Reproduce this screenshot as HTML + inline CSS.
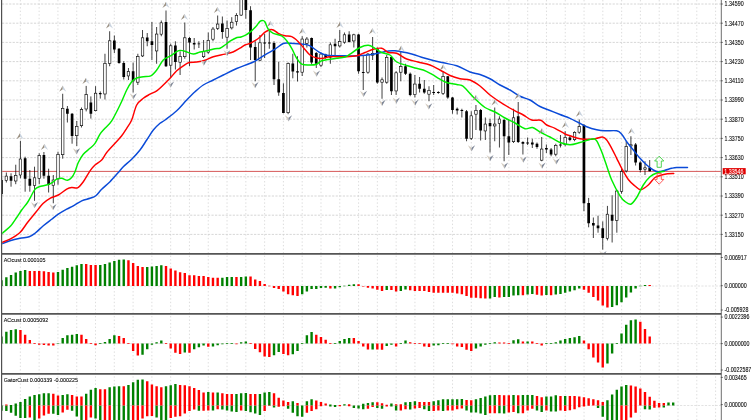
<!DOCTYPE html>
<html><head><meta charset="utf-8"><style>
html,body{margin:0;padding:0;background:#fff;}
body{width:752px;height:420px;overflow:hidden;position:relative;font-family:"Liberation Sans",sans-serif;}
</style></head><body>
<svg width="752" height="420" viewBox="0 0 752 420" style="position:absolute;left:0;top:0;will-change:transform">
<rect width="752" height="420" fill="#fff"/>
<defs>
<clipPath id="pm"><rect x="2.2" y="0" width="718.60" height="253"/></clipPath>
<clipPath id="pa"><rect x="2.2" y="254.3" width="718.60" height="58.6"/></clipPath>
<clipPath id="pc"><rect x="2.2" y="314.3" width="718.60" height="58.6"/></clipPath>
<clipPath id="pg"><rect x="2.2" y="374.3" width="718.60" height="46"/></clipPath>
</defs>
<path d="M2 286.00H721.30 M2 343.60H721.30 M2 405.50H721.30" stroke="#d8d8d8" stroke-width="0.75" stroke-dasharray="2.2 1.35" fill="none"/>
<path d="M20.35 0V420 M39.14 0V420 M57.93 0V420 M76.72 0V420 M95.51 0V420 M114.30 0V420 M133.09 0V420 M151.88 0V420 M170.67 0V420 M189.46 0V420 M208.25 0V420 M227.04 0V420 M245.83 0V420 M264.62 0V420 M283.41 0V420 M302.20 0V420 M320.99 0V420 M339.78 0V420 M358.57 0V420 M377.36 0V420 M396.15 0V420 M414.94 0V420 M433.73 0V420 M452.52 0V420 M471.31 0V420 M490.10 0V420 M508.89 0V420 M527.68 0V420 M546.47 0V420 M565.26 0V420 M584.05 0V420 M602.84 0V420 M621.63 0V420 M640.42 0V420 M659.21 0V420 M678.00 0V420 M696.79 0V420 M715.58 0V420" stroke="#d4d4d4" stroke-width="0.8" stroke-dasharray="1.4 2.15" fill="none"/>
<path d="M2 4.00H721.30 M2 23.20H721.30 M2 42.40H721.30 M2 61.60H721.30 M2 80.80H721.30 M2 100.00H721.30 M2 119.20H721.30 M2 138.40H721.30 M2 157.60H721.30 M2 176.80H721.30 M2 196.00H721.30 M2 215.20H721.30 M2 234.40H721.30" stroke="#c8c8c8" stroke-width="0.75" stroke-dasharray="2.2 1.35" fill="none"/>
<g clip-path="url(#pm)">
<path d="M2 171.4H721.30" stroke="#d45050" stroke-width="0.95" fill="none"/>
<path d="M1.65 178.00V196.00 M6.35 172.50V182.50 M11.04 173.30V186.70 M15.74 164.70V184.20 M20.43 140.80V178.30 M25.13 156.70V191.70 M29.83 170.00V191.70 M34.52 166.70V200.80 M39.22 153.30V184.20 M43.91 152.00V178.70 M48.61 168.70V192.50 M53.31 175.00V203.30 M58.00 151.70V184.70 M62.70 93.75V158.70 M67.39 106.00V122.50 M72.09 113.00V143.70 M76.79 121.00V146.00 M81.48 107.50V127.50 M86.18 85.90V111.40 M90.87 96.40V118.60 M95.57 86.20V111.40 M100.27 91.40V98.60 M104.96 53.75V99.50 M109.66 31.25V66.25 M114.35 35.50V53.00 M119.05 48.00V63.75 M123.75 61.25V79.50 M128.44 68.00V80.00 M133.14 62.50V92.50 M137.83 53.75V85.00 M142.53 30.00V57.00 M147.23 33.00V46.25 M151.92 22.00V60.00 M156.62 27.00V63.75 M161.31 20.50V36.25 M166.01 10.50V67.00 M170.71 43.75V77.50 M175.40 41.25V69.50 M180.10 51.25V75.00 M184.79 22.50V58.75 M189.49 37.00V66.25 M194.19 38.00V49.50 M198.88 41.25V48.00 M203.58 40.00V58.00 M208.27 32.50V53.75 M212.97 27.00V41.25 M217.67 15.50V30.00 M222.36 16.50V38.75 M227.06 20.50V48.75 M231.75 17.20V29.50 M236.45 13.20V25.60 M241.15 -5.00V16.00 M245.84 -5.00V18.70 M250.54 6.20V60.00 M255.23 41.25V81.25 M259.93 35.00V61.25 M264.63 33.75V58.00 M269.32 28.75V48.75 M274.02 41.25V85.00 M278.71 61.70V95.80 M283.41 83.30V113.30 M288.11 62.50V114.20 M292.80 53.75V78.30 M297.50 56.25V81.50 M302.19 36.25V76.00 M306.89 37.00V47.50 M311.59 37.50V64.50 M316.28 52.00V68.00 M320.98 52.50V67.00 M325.67 53.75V58.75 M330.37 42.50V63.75 M335.07 38.75V56.25 M339.76 30.00V47.50 M344.46 32.50V43.75 M349.15 31.25V42.50 M353.85 33.75V47.50 M358.55 33.75V73.75 M363.24 55.00V90.00 M367.94 53.00V73.75 M372.63 37.00V60.00 M377.33 47.50V83.75 M382.03 77.50V98.75 M386.72 55.00V83.75 M391.42 56.25V95.00 M396.11 71.25V95.00 M400.81 51.25V81.25 M405.51 63.75V75.00 M410.20 72.50V96.25 M414.90 75.00V97.50 M419.59 77.00V92.50 M424.29 80.00V93.75 M428.99 86.25V101.25 M433.68 85.00V95.00 M438.38 91.25V93.75 M443.07 71.25V95.00 M447.77 76.00V98.75 M452.47 97.00V113.75 M457.16 107.50V114.50 M461.86 108.75V117.50 M466.55 110.00V141.25 M471.25 111.25V140.00 M475.95 105.00V130.00 M480.64 109.00V140.50 M485.34 117.50V140.00 M490.03 118.75V152.50 M494.73 107.50V141.25 M499.43 116.25V147.50 M504.12 118.75V161.25 M508.82 120.00V155.00 M513.51 108.75V143.00 M518.21 102.00V143.00 M522.91 141.25V154.50 M527.60 137.50V145.00 M532.30 138.75V148.00 M536.99 142.50V148.75 M541.69 137.00V161.25 M546.39 144.50V153.00 M551.08 148.00V156.25 M555.78 143.75V156.25 M560.47 135.00V147.50 M565.17 131.25V146.25 M569.87 135.00V141.25 M574.56 131.25V141.25 M579.26 119.50V133.75 M583.95 124.00V211.25 M588.65 197.90V227.30 M593.35 217.50V238.00 M598.04 215.70V232.70 M602.74 221.40V249.60 M607.43 205.90V240.40 M612.13 195.20V242.50 M616.83 189.80V232.70 M621.52 168.75V193.75 M626.22 141.25V172.50 M630.91 136.25V155.00 M635.61 143.00V165.50 M640.31 161.25V172.50 M645.00 161.25V175.00 M649.70 160.00V171.25" stroke="#000" stroke-width="0.75" fill="none"/>
<path d="M0.30 180.00h2.70v14.00h-2.70z M9.69 176.30h2.70v4.50h-2.70z M23.78 158.30h2.70v20.40h-2.70z M28.48 178.70h2.70v7.10h-2.70z M42.56 155.00h2.70v20.80h-2.70z M47.26 175.80h2.70v9.20h-2.70z M66.04 108.70h2.70v5.00h-2.70z M70.74 113.70h2.70v22.30h-2.70z M89.52 102.40h2.70v11.40h-2.70z M98.92 92.90h2.70v1.40h-2.70z M113.00 40.50h2.70v9.00h-2.70z M117.70 48.75h2.70v14.25h-2.70z M122.40 63.00h2.70v14.00h-2.70z M131.79 71.25h2.70v10.00h-2.70z M145.88 37.50h2.70v3.75h-2.70z M150.57 41.25h2.70v3.75h-2.70z M164.66 22.00h2.70v44.25h-2.70z M174.05 45.50h2.70v16.50h-2.70z M188.14 38.00h2.70v4.50h-2.70z M192.84 43.00h2.70v1.50h-2.70z M197.53 43.50h2.70v0.80h-2.70z M221.01 23.40h2.70v8.60h-2.70z M244.49 -3.00h2.70v12.90h-2.70z M249.19 10.20h2.70v37.30h-2.70z M253.88 47.00h2.70v13.00h-2.70z M263.28 42.60h2.70v0.80h-2.70z M267.97 42.60h2.70v0.80h-2.70z M272.67 43.00h2.70v36.20h-2.70z M277.36 79.20h2.70v13.30h-2.70z M282.06 93.00h2.70v20.00h-2.70z M291.45 63.50h2.70v8.00h-2.70z M296.15 71.30h2.70v1.20h-2.70z M310.24 38.00h2.70v24.50h-2.70z M314.93 53.00h2.70v10.75h-2.70z M324.32 54.50h2.70v3.50h-2.70z M333.72 43.75h2.70v2.50h-2.70z M347.80 34.50h2.70v7.50h-2.70z M357.20 34.50h2.70v36.75h-2.70z M361.89 72.10h2.70v0.80h-2.70z M375.98 48.75h2.70v33.75h-2.70z M390.07 57.00h2.70v34.25h-2.70z M404.16 66.25h2.70v7.50h-2.70z M408.85 73.75h2.70v21.25h-2.70z M418.24 83.75h2.70v5.00h-2.70z M422.94 88.75h2.70v3.75h-2.70z M432.33 92.10h2.70v0.80h-2.70z M437.03 92.10h2.70v0.80h-2.70z M446.42 76.25h2.70v21.25h-2.70z M451.12 97.50h2.70v12.50h-2.70z M455.81 108.75h2.70v1.75h-2.70z M460.51 110.10h2.70v0.80h-2.70z M465.20 111.25h2.70v27.50h-2.70z M479.29 110.00h2.70v20.50h-2.70z M488.68 123.00h2.70v3.25h-2.70z M502.77 120.00h2.70v16.25h-2.70z M507.47 136.25h2.70v6.25h-2.70z M516.86 116.25h2.70v25.75h-2.70z M521.56 142.00h2.70v1.75h-2.70z M526.25 142.60h2.70v0.80h-2.70z M530.95 142.50h2.70v2.00h-2.70z M535.64 143.75h2.70v3.25h-2.70z M545.04 148.00h2.70v1.50h-2.70z M549.73 149.50h2.70v5.00h-2.70z M559.12 144.60h2.70v0.80h-2.70z M568.52 137.50h2.70v2.50h-2.70z M582.60 125.00h2.70v78.20h-2.70z M587.30 202.90h2.70v20.30h-2.70z M592.00 222.90h2.70v2.60h-2.70z M596.69 225.50h2.70v2.70h-2.70z M601.39 228.20h2.70v9.80h-2.70z M610.78 214.80h2.70v5.90h-2.70z M634.26 144.50h2.70v18.00h-2.70z M638.96 162.50h2.70v7.50h-2.70z M648.35 167.50h2.70v3.75h-2.70z" fill="#000"/>
<rect x="5.11" y="176.11" width="2.48" height="4.38" fill="#fff" stroke="#000" stroke-width="0.62"/>
<rect x="14.50" y="175.31" width="2.48" height="5.68" fill="#fff" stroke="#000" stroke-width="0.62"/>
<rect x="19.19" y="159.01" width="2.48" height="15.98" fill="#fff" stroke="#000" stroke-width="0.62"/>
<rect x="33.28" y="177.81" width="2.48" height="7.68" fill="#fff" stroke="#000" stroke-width="0.62"/>
<rect x="37.98" y="155.61" width="2.48" height="22.78" fill="#fff" stroke="#000" stroke-width="0.62"/>
<rect x="52.07" y="180.01" width="2.48" height="5.48" fill="#fff" stroke="#000" stroke-width="0.62"/>
<rect x="56.76" y="154.51" width="2.48" height="24.38" fill="#fff" stroke="#000" stroke-width="0.62"/>
<rect x="61.46" y="108.31" width="2.48" height="46.38" fill="#fff" stroke="#000" stroke-width="0.62"/>
<rect x="75.55" y="126.31" width="2.48" height="9.38" fill="#fff" stroke="#000" stroke-width="0.62"/>
<rect x="80.24" y="109.61" width="2.48" height="16.08" fill="#fff" stroke="#000" stroke-width="0.62"/>
<rect x="84.94" y="94.61" width="2.48" height="14.38" fill="#fff" stroke="#000" stroke-width="0.62"/>
<rect x="94.33" y="93.21" width="2.48" height="17.48" fill="#fff" stroke="#000" stroke-width="0.62"/>
<rect x="103.72" y="63.31" width="2.48" height="30.68" fill="#fff" stroke="#000" stroke-width="0.62"/>
<rect x="108.42" y="40.81" width="2.48" height="22.63" fill="#fff" stroke="#000" stroke-width="0.62"/>
<rect x="127.20" y="71.56" width="2.48" height="4.38" fill="#fff" stroke="#000" stroke-width="0.62"/>
<rect x="136.59" y="56.56" width="2.48" height="25.63" fill="#fff" stroke="#000" stroke-width="0.62"/>
<rect x="141.29" y="37.81" width="2.48" height="18.13" fill="#fff" stroke="#000" stroke-width="0.62"/>
<rect x="155.38" y="34.06" width="2.48" height="16.88" fill="#fff" stroke="#000" stroke-width="0.62"/>
<rect x="160.07" y="22.81" width="2.48" height="11.38" fill="#fff" stroke="#000" stroke-width="0.62"/>
<rect x="169.47" y="45.81" width="2.48" height="19.38" fill="#fff" stroke="#000" stroke-width="0.62"/>
<rect x="178.86" y="56.56" width="2.48" height="5.63" fill="#fff" stroke="#000" stroke-width="0.62"/>
<rect x="183.55" y="37.81" width="2.48" height="18.88" fill="#fff" stroke="#000" stroke-width="0.62"/>
<rect x="202.34" y="51.56" width="2.48" height="5.13" fill="#fff" stroke="#000" stroke-width="0.62"/>
<rect x="207.03" y="40.31" width="2.48" height="11.88" fill="#fff" stroke="#000" stroke-width="0.62"/>
<rect x="211.73" y="29.06" width="2.48" height="10.13" fill="#fff" stroke="#000" stroke-width="0.62"/>
<rect x="216.43" y="24.06" width="2.48" height="4.38" fill="#fff" stroke="#000" stroke-width="0.62"/>
<rect x="225.82" y="28.51" width="2.48" height="8.68" fill="#fff" stroke="#000" stroke-width="0.62"/>
<rect x="230.51" y="22.21" width="2.48" height="5.68" fill="#fff" stroke="#000" stroke-width="0.62"/>
<rect x="235.21" y="15.31" width="2.48" height="6.28" fill="#fff" stroke="#000" stroke-width="0.62"/>
<rect x="239.91" y="-2.69" width="2.48" height="17.78" fill="#fff" stroke="#000" stroke-width="0.62"/>
<rect x="258.69" y="42.81" width="2.48" height="17.38" fill="#fff" stroke="#000" stroke-width="0.62"/>
<rect x="286.87" y="63.61" width="2.48" height="49.08" fill="#fff" stroke="#000" stroke-width="0.62"/>
<rect x="300.95" y="39.06" width="2.48" height="33.13" fill="#fff" stroke="#000" stroke-width="0.62"/>
<rect x="305.65" y="39.06" width="2.48" height="4.38" fill="#fff" stroke="#000" stroke-width="0.62"/>
<rect x="319.74" y="54.06" width="2.48" height="11.13" fill="#fff" stroke="#000" stroke-width="0.62"/>
<rect x="329.13" y="44.81" width="2.48" height="12.38" fill="#fff" stroke="#000" stroke-width="0.62"/>
<rect x="338.52" y="41.56" width="2.48" height="4.38" fill="#fff" stroke="#000" stroke-width="0.62"/>
<rect x="343.22" y="34.81" width="2.48" height="7.38" fill="#fff" stroke="#000" stroke-width="0.62"/>
<rect x="352.61" y="34.81" width="2.48" height="6.13" fill="#fff" stroke="#000" stroke-width="0.62"/>
<rect x="366.70" y="54.06" width="2.48" height="18.13" fill="#fff" stroke="#000" stroke-width="0.62"/>
<rect x="371.39" y="53.31" width="2.48" height="1.88" fill="#fff" stroke="#000" stroke-width="0.62"/>
<rect x="380.79" y="79.81" width="2.48" height="2.38" fill="#fff" stroke="#000" stroke-width="0.62"/>
<rect x="385.48" y="57.31" width="2.48" height="24.88" fill="#fff" stroke="#000" stroke-width="0.62"/>
<rect x="394.87" y="72.81" width="2.48" height="18.13" fill="#fff" stroke="#000" stroke-width="0.62"/>
<rect x="399.57" y="66.56" width="2.48" height="5.63" fill="#fff" stroke="#000" stroke-width="0.62"/>
<rect x="413.66" y="84.06" width="2.48" height="10.63" fill="#fff" stroke="#000" stroke-width="0.62"/>
<rect x="427.75" y="90.31" width="2.48" height="3.88" fill="#fff" stroke="#000" stroke-width="0.62"/>
<rect x="441.83" y="76.56" width="2.48" height="16.88" fill="#fff" stroke="#000" stroke-width="0.62"/>
<rect x="470.01" y="115.81" width="2.48" height="22.63" fill="#fff" stroke="#000" stroke-width="0.62"/>
<rect x="474.71" y="110.31" width="2.48" height="3.88" fill="#fff" stroke="#000" stroke-width="0.62"/>
<rect x="484.10" y="124.06" width="2.48" height="6.88" fill="#fff" stroke="#000" stroke-width="0.62"/>
<rect x="493.49" y="124.06" width="2.48" height="1.88" fill="#fff" stroke="#000" stroke-width="0.62"/>
<rect x="498.19" y="119.06" width="2.48" height="4.38" fill="#fff" stroke="#000" stroke-width="0.62"/>
<rect x="512.27" y="117.81" width="2.48" height="23.88" fill="#fff" stroke="#000" stroke-width="0.62"/>
<rect x="540.45" y="149.06" width="2.48" height="11.13" fill="#fff" stroke="#000" stroke-width="0.62"/>
<rect x="554.54" y="145.31" width="2.48" height="8.88" fill="#fff" stroke="#000" stroke-width="0.62"/>
<rect x="563.93" y="137.31" width="2.48" height="7.38" fill="#fff" stroke="#000" stroke-width="0.62"/>
<rect x="573.32" y="132.31" width="2.48" height="7.38" fill="#fff" stroke="#000" stroke-width="0.62"/>
<rect x="578.02" y="126.56" width="2.48" height="5.63" fill="#fff" stroke="#000" stroke-width="0.62"/>
<rect x="606.19" y="214.21" width="2.48" height="24.08" fill="#fff" stroke="#000" stroke-width="0.62"/>
<rect x="615.59" y="191.01" width="2.48" height="29.38" fill="#fff" stroke="#000" stroke-width="0.62"/>
<rect x="620.28" y="171.56" width="2.48" height="19.73" fill="#fff" stroke="#000" stroke-width="0.62"/>
<rect x="624.98" y="146.56" width="2.48" height="24.38" fill="#fff" stroke="#000" stroke-width="0.62"/>
<rect x="629.67" y="144.81" width="2.48" height="1.13" fill="#fff" stroke="#000" stroke-width="0.62"/>
<rect x="643.76" y="167.81" width="2.48" height="1.38" fill="#fff" stroke="#000" stroke-width="0.62"/>
<path d="M1.50 244.00 C2.92 243.47 6.92 241.75 10.00 240.80 C13.08 239.85 16.80 238.98 20.00 238.30 C23.20 237.62 26.70 237.53 29.20 236.70 C31.70 235.87 32.65 235.12 35.00 233.30 C37.35 231.48 40.52 228.15 43.30 225.80 C46.08 223.45 49.20 221.13 51.70 219.20 C54.20 217.27 55.80 215.87 58.30 214.20 C60.80 212.53 64.20 210.60 66.70 209.20 C69.20 207.80 70.80 207.20 73.30 205.80 C75.80 204.40 78.92 202.05 81.70 200.80 C84.48 199.55 87.65 199.13 90.00 198.30 C92.35 197.47 93.85 197.32 95.80 195.80 C97.75 194.28 99.33 191.55 101.70 189.20 C104.07 186.85 107.23 184.48 110.00 181.70 C112.77 178.92 116.08 175.00 118.30 172.50 C120.52 170.00 121.07 168.92 123.30 166.70 C125.53 164.48 128.92 161.98 131.70 159.20 C134.48 156.42 137.50 153.20 140.00 150.00 C142.50 146.80 144.48 143.33 146.70 140.00 C148.92 136.67 151.08 132.78 153.30 130.00 C155.52 127.22 158.05 124.97 160.00 123.30 C161.95 121.63 162.22 122.08 165.00 120.00 C167.78 117.92 173.08 114.13 176.70 110.80 C180.32 107.47 183.65 103.18 186.70 100.00 C189.75 96.82 192.23 94.20 195.00 91.70 C197.77 89.20 200.25 86.95 203.30 85.00 C206.35 83.05 209.97 81.67 213.30 80.00 C216.63 78.33 219.40 76.92 223.30 75.00 C227.20 73.08 231.70 70.67 236.70 68.50 C241.70 66.33 248.58 64.28 253.30 62.00 C258.02 59.72 261.38 56.93 265.00 54.80 C268.62 52.67 271.95 51.08 275.00 49.20 C278.05 47.32 280.80 44.48 283.30 43.50 C285.80 42.52 286.67 43.18 290.00 43.30 C293.33 43.42 299.97 43.78 303.30 44.20 C306.63 44.62 307.50 44.55 310.00 45.80 C312.50 47.05 315.52 50.12 318.30 51.70 C321.08 53.28 322.25 54.62 326.70 55.30 C331.15 55.98 340.00 55.72 345.00 55.80 C350.00 55.88 351.98 56.07 356.70 55.80 C361.42 55.53 368.30 54.95 373.30 54.20 C378.30 53.45 383.08 51.87 386.70 51.30 C390.32 50.73 390.83 50.35 395.00 50.80 C399.17 51.25 406.98 52.83 411.70 54.00 C416.42 55.17 419.70 56.72 423.30 57.80 C426.90 58.88 429.97 59.67 433.30 60.50 C436.63 61.33 439.40 61.92 443.30 62.80 C447.20 63.68 452.25 64.27 456.70 65.80 C461.15 67.33 466.12 70.55 470.00 72.00 C473.88 73.45 476.67 73.38 480.00 74.50 C483.33 75.62 486.67 77.00 490.00 78.75 C493.33 80.50 496.67 83.12 500.00 85.00 C503.33 86.88 506.67 88.12 510.00 90.00 C513.33 91.88 516.67 94.58 520.00 96.25 C523.33 97.92 526.67 98.29 530.00 100.00 C533.33 101.71 536.67 104.75 540.00 106.50 C543.33 108.25 546.67 109.17 550.00 110.50 C553.33 111.83 556.67 113.20 560.00 114.50 C563.33 115.80 566.95 116.97 570.00 118.30 C573.05 119.63 575.52 121.10 578.30 122.50 C581.08 123.90 583.63 125.50 586.70 126.70 C589.77 127.90 593.65 129.02 596.70 129.70 C599.75 130.38 601.67 130.62 605.00 130.80 C608.33 130.98 613.92 130.23 616.70 130.80 C619.48 131.37 620.03 132.38 621.70 134.20 C623.37 136.02 624.77 139.07 626.70 141.70 C628.63 144.33 631.08 147.23 633.30 150.00 C635.52 152.77 637.77 155.80 640.00 158.30 C642.23 160.80 644.48 163.05 646.70 165.00 C648.92 166.95 651.37 168.88 653.30 170.00 C655.23 171.12 656.35 171.65 658.30 171.70 C660.25 171.75 662.77 170.87 665.00 170.30 C667.23 169.73 669.75 168.77 671.70 168.30 C673.65 167.83 674.07 167.63 676.70 167.50 C679.33 167.37 685.70 167.50 687.50 167.50" stroke="#0a4ad8" stroke-width="1.45" fill="none" stroke-linejoin="round" stroke-linecap="round"/>
<path d="M1.50 242.50 C2.92 241.95 6.92 240.87 10.00 239.20 C13.08 237.53 17.08 235.28 20.00 232.50 C22.92 229.72 25.00 225.70 27.50 222.50 C30.00 219.30 32.37 216.50 35.00 213.30 C37.63 210.10 40.80 205.80 43.30 203.30 C45.80 200.80 47.50 199.68 50.00 198.30 C52.50 196.92 55.52 196.52 58.30 195.00 C61.08 193.48 64.47 190.45 66.70 189.20 C68.93 187.95 69.90 187.73 71.70 187.50 C73.50 187.27 75.57 188.77 77.50 187.80 C79.43 186.83 81.22 184.53 83.30 181.70 C85.38 178.87 88.05 173.58 90.00 170.80 C91.95 168.02 93.05 166.80 95.00 165.00 C96.95 163.20 99.75 162.08 101.70 160.00 C103.65 157.92 104.48 155.28 106.70 152.50 C108.92 149.72 112.50 146.08 115.00 143.30 C117.50 140.52 119.75 138.30 121.70 135.80 C123.65 133.30 125.03 130.93 126.70 128.30 C128.37 125.67 130.03 123.88 131.70 120.00 C133.37 116.12 134.77 108.62 136.70 105.00 C138.63 101.38 141.08 100.10 143.30 98.30 C145.52 96.50 147.77 95.45 150.00 94.20 C152.23 92.95 154.48 92.33 156.70 90.80 C158.92 89.27 161.08 87.08 163.30 85.00 C165.52 82.92 167.77 80.67 170.00 78.30 C172.23 75.93 174.48 72.88 176.70 70.80 C178.92 68.72 181.22 67.18 183.30 65.80 C185.38 64.42 186.97 63.13 189.20 62.50 C191.43 61.87 194.07 62.37 196.70 62.00 C199.33 61.63 202.23 61.18 205.00 60.30 C207.77 59.42 209.97 57.73 213.30 56.70 C216.63 55.67 221.72 54.88 225.00 54.10 C228.28 53.32 230.50 52.98 233.00 52.00 C235.50 51.02 238.00 49.37 240.00 48.20 C242.00 47.03 243.33 45.80 245.00 45.00 C246.67 44.20 248.33 44.12 250.00 43.40 C251.67 42.68 253.33 41.77 255.00 40.70 C256.67 39.63 258.33 38.43 260.00 37.00 C261.67 35.57 263.33 33.32 265.00 32.10 C266.67 30.88 268.62 30.05 270.00 29.70 C271.38 29.35 271.92 29.40 273.30 30.00 C274.68 30.60 276.35 32.33 278.30 33.30 C280.25 34.27 282.77 35.23 285.00 35.80 C287.23 36.37 289.48 35.72 291.70 36.70 C293.92 37.68 296.37 39.90 298.30 41.70 C300.23 43.50 301.35 45.28 303.30 47.50 C305.25 49.72 307.77 53.25 310.00 55.00 C312.23 56.75 314.48 57.45 316.70 58.00 C318.92 58.55 321.08 58.52 323.30 58.30 C325.52 58.08 326.38 56.97 330.00 56.70 C333.62 56.43 340.55 56.85 345.00 56.70 C349.45 56.55 353.37 56.50 356.70 55.80 C360.03 55.10 362.23 53.60 365.00 52.50 C367.77 51.40 370.52 49.90 373.30 49.20 C376.08 48.50 379.20 47.75 381.70 48.30 C384.20 48.85 385.80 51.67 388.30 52.50 C390.80 53.33 393.63 52.22 396.70 53.30 C399.77 54.38 403.15 57.55 406.70 59.00 C410.25 60.45 414.12 61.00 418.00 62.00 C421.88 63.00 426.33 63.67 430.00 65.00 C433.67 66.33 436.67 68.25 440.00 70.00 C443.33 71.75 446.67 74.04 450.00 75.50 C453.33 76.96 456.67 78.00 460.00 78.75 C463.33 79.50 466.67 78.79 470.00 80.00 C473.33 81.21 476.67 83.50 480.00 86.00 C483.33 88.50 486.12 91.97 490.00 95.00 C493.88 98.03 499.13 101.57 503.30 104.20 C507.47 106.83 511.67 109.00 515.00 110.80 C518.33 112.60 520.52 113.47 523.30 115.00 C526.08 116.53 528.78 119.12 531.70 120.00 C534.62 120.88 538.30 119.47 540.80 120.30 C543.30 121.13 544.33 123.67 546.70 125.00 C549.07 126.33 551.95 126.80 555.00 128.30 C558.05 129.80 562.50 132.75 565.00 134.00 C567.50 135.25 567.50 135.02 570.00 135.80 C572.50 136.58 576.38 138.13 580.00 138.70 C583.62 139.27 588.92 139.27 591.70 139.20 C594.48 139.13 594.90 138.67 596.70 138.30 C598.50 137.93 600.83 136.72 602.50 137.00 C604.17 137.28 605.17 138.12 606.70 140.00 C608.23 141.88 610.03 145.25 611.70 148.30 C613.37 151.35 615.03 154.97 616.70 158.30 C618.37 161.63 619.77 164.77 621.70 168.30 C623.63 171.83 626.08 176.55 628.30 179.50 C630.52 182.45 632.92 184.30 635.00 186.00 C637.08 187.70 638.58 189.87 640.80 189.70 C643.02 189.53 645.93 187.03 648.30 185.00 C650.67 182.97 652.77 179.17 655.00 177.50 C657.23 175.83 659.62 175.63 661.70 175.00 C663.78 174.37 665.49 173.95 667.50 173.70 C669.51 173.45 672.71 173.53 673.75 173.50" stroke="#ff0000" stroke-width="1.45" fill="none" stroke-linejoin="round" stroke-linecap="round"/>
<path d="M1.50 234.00 C2.25 233.35 4.45 231.47 6.00 230.10 C7.55 228.73 9.02 227.90 10.80 225.80 C12.58 223.70 14.88 220.13 16.70 217.50 C18.52 214.87 19.90 212.50 21.70 210.00 C23.50 207.50 25.83 205.00 27.50 202.50 C29.17 200.00 30.45 197.22 31.70 195.00 C32.95 192.78 33.75 190.58 35.00 189.20 C36.25 187.82 36.98 187.48 39.20 186.70 C41.42 185.92 45.88 185.37 48.30 184.50 C50.72 183.63 52.35 182.38 53.75 181.50 C55.15 180.62 55.38 179.73 56.70 179.20 C58.03 178.67 59.90 178.12 61.70 178.30 C63.50 178.48 65.83 180.43 67.50 180.30 C69.17 180.17 70.45 178.93 71.70 177.50 C72.95 176.07 73.90 174.20 75.00 171.70 C76.10 169.20 76.92 165.42 78.30 162.50 C79.68 159.58 81.35 156.57 83.30 154.20 C85.25 151.83 88.05 150.12 90.00 148.30 C91.95 146.48 93.33 145.65 95.00 143.30 C96.67 140.95 98.33 136.70 100.00 134.20 C101.67 131.70 103.05 130.53 105.00 128.30 C106.95 126.07 109.20 124.68 111.70 120.80 C114.20 116.92 117.50 110.13 120.00 105.00 C122.50 99.87 124.75 93.88 126.70 90.00 C128.65 86.12 130.03 83.70 131.70 81.70 C133.37 79.70 134.77 78.83 136.70 78.00 C138.63 77.17 140.95 77.07 143.30 76.70 C145.65 76.33 148.57 76.92 150.80 75.80 C153.03 74.68 154.62 72.63 156.70 70.00 C158.78 67.37 161.08 62.30 163.30 60.00 C165.52 57.70 167.77 57.58 170.00 56.20 C172.23 54.82 175.03 52.67 176.70 51.70 C178.37 50.73 178.62 50.48 180.00 50.40 C181.38 50.32 182.78 50.60 185.00 51.20 C187.22 51.80 190.80 53.87 193.30 54.00 C195.80 54.13 197.50 52.58 200.00 52.00 C202.50 51.42 205.80 51.05 208.30 50.50 C210.80 49.95 213.05 49.08 215.00 48.70 C216.95 48.32 218.33 48.82 220.00 48.20 C221.67 47.58 223.33 46.17 225.00 45.00 C226.67 43.83 228.00 42.45 230.00 41.20 C232.00 39.95 235.17 38.20 237.00 37.50 C238.83 36.80 239.50 37.45 241.00 37.00 C242.50 36.55 244.50 35.62 246.00 34.80 C247.50 33.98 248.83 32.98 250.00 32.10 C251.17 31.22 251.83 30.65 253.00 29.50 C254.17 28.35 255.83 26.55 257.00 25.20 C258.17 23.85 259.00 22.17 260.00 21.40 C261.00 20.63 262.17 20.50 263.00 20.60 C263.83 20.70 264.12 20.57 265.00 22.00 C265.88 23.43 266.92 27.32 268.30 29.20 C269.68 31.08 271.07 32.20 273.30 33.30 C275.53 34.40 279.47 34.55 281.70 35.80 C283.93 37.05 285.03 38.72 286.70 40.80 C288.37 42.88 290.03 45.38 291.70 48.30 C293.37 51.22 295.03 55.65 296.70 58.30 C298.37 60.95 299.48 63.08 301.70 64.20 C303.92 65.32 307.50 65.00 310.00 65.00 C312.50 65.00 314.75 64.90 316.70 64.20 C318.65 63.50 319.48 61.63 321.70 60.80 C323.92 59.97 327.50 59.62 330.00 59.20 C332.50 58.78 334.20 58.67 336.70 58.30 C339.20 57.93 342.78 57.68 345.00 57.00 C347.22 56.32 347.50 55.78 350.00 54.20 C352.50 52.62 356.95 48.98 360.00 47.50 C363.05 46.02 365.80 45.17 368.30 45.30 C370.80 45.43 372.77 47.10 375.00 48.30 C377.23 49.50 379.20 51.38 381.70 52.50 C384.20 53.62 387.50 53.42 390.00 55.00 C392.50 56.58 393.92 60.25 396.70 62.00 C399.48 63.75 403.65 64.50 406.70 65.50 C409.75 66.50 412.23 67.25 415.00 68.00 C417.77 68.75 420.52 68.97 423.30 70.00 C426.08 71.03 428.92 72.67 431.70 74.20 C434.48 75.73 437.50 77.82 440.00 79.20 C442.50 80.58 443.92 81.62 446.70 82.50 C449.48 83.38 454.20 84.00 456.70 84.50 C459.20 85.00 460.32 84.92 461.70 85.50 C463.08 86.08 462.78 85.79 465.00 88.00 C467.22 90.21 471.67 95.50 475.00 98.75 C478.33 102.00 481.67 105.29 485.00 107.50 C488.33 109.71 491.67 110.25 495.00 112.00 C498.33 113.75 501.67 116.17 505.00 118.00 C508.33 119.83 511.67 121.21 515.00 123.00 C518.33 124.79 522.08 128.00 525.00 128.75 C527.92 129.50 530.00 126.96 532.50 127.50 C535.00 128.04 537.08 130.42 540.00 132.00 C542.92 133.58 546.67 135.25 550.00 137.00 C553.33 138.75 556.67 141.22 560.00 142.50 C563.33 143.78 566.67 144.70 570.00 144.70 C573.33 144.70 576.95 143.28 580.00 142.50 C583.05 141.72 586.08 140.63 588.30 140.00 C590.52 139.37 591.90 138.57 593.30 138.70 C594.70 138.83 595.30 138.63 596.70 140.80 C598.10 142.97 600.18 147.95 601.70 151.70 C603.22 155.45 604.13 158.58 605.80 163.30 C607.47 168.02 609.33 174.58 611.70 180.00 C614.07 185.42 617.78 192.22 620.00 195.80 C622.22 199.38 623.20 200.10 625.00 201.50 C626.80 202.90 628.85 204.87 630.80 204.20 C632.75 203.53 634.62 200.70 636.70 197.50 C638.78 194.30 641.08 188.47 643.30 185.00 C645.52 181.53 647.77 178.70 650.00 176.70 C652.23 174.70 654.33 173.90 656.70 173.00 C659.07 172.10 662.95 171.58 664.20 171.30" stroke="#00ee00" stroke-width="1.45" fill="none" stroke-linejoin="round" stroke-linecap="round"/>
<path d="M20.00 132.90L16.40 139.20L20.00 136.80z" fill="#9a9082"/>
<path d="M20.00 132.90L23.60 139.20L20.00 136.80z" fill="#c8d2de"/>
<path d="M44.50 143.70L40.90 150.00L44.50 147.60z" fill="#9a9082"/>
<path d="M44.50 143.70L48.10 150.00L44.50 147.60z" fill="#c8d2de"/>
<path d="M62.75 85.45L59.15 91.75L62.75 89.35z" fill="#9a9082"/>
<path d="M62.75 85.45L66.35 91.75L62.75 89.35z" fill="#c8d2de"/>
<path d="M86.00 77.70L82.40 84.00L86.00 81.60z" fill="#9a9082"/>
<path d="M86.00 77.70L89.60 84.00L86.00 81.60z" fill="#c8d2de"/>
<path d="M109.50 22.20L105.90 28.50L109.50 26.10z" fill="#9a9082"/>
<path d="M109.50 22.20L113.10 28.50L109.50 26.10z" fill="#c8d2de"/>
<path d="M166.00 1.70L162.40 8.00L166.00 5.60z" fill="#9a9082"/>
<path d="M166.00 1.70L169.60 8.00L166.00 5.60z" fill="#c8d2de"/>
<path d="M184.50 13.70L180.90 20.00L184.50 17.60z" fill="#9a9082"/>
<path d="M184.50 13.70L188.10 20.00L184.50 17.60z" fill="#c8d2de"/>
<path d="M217.50 6.70L213.90 13.00L217.50 10.60z" fill="#9a9082"/>
<path d="M217.50 6.70L221.10 13.00L217.50 10.60z" fill="#c8d2de"/>
<path d="M270.50 20.70L266.90 27.00L270.50 24.60z" fill="#9a9082"/>
<path d="M270.50 20.70L274.10 27.00L270.50 24.60z" fill="#c8d2de"/>
<path d="M302.50 27.95L298.90 34.25L302.50 31.85z" fill="#9a9082"/>
<path d="M302.50 27.95L306.10 34.25L302.50 31.85z" fill="#c8d2de"/>
<path d="M340.00 21.70L336.40 28.00L340.00 25.60z" fill="#9a9082"/>
<path d="M340.00 21.70L343.60 28.00L340.00 25.60z" fill="#c8d2de"/>
<path d="M372.50 27.95L368.90 34.25L372.50 31.85z" fill="#9a9082"/>
<path d="M372.50 27.95L376.10 34.25L372.50 31.85z" fill="#c8d2de"/>
<path d="M401.25 45.45L397.65 51.75L401.25 49.35z" fill="#9a9082"/>
<path d="M401.25 45.45L404.85 51.75L401.25 49.35z" fill="#c8d2de"/>
<path d="M443.25 64.20L439.65 70.50L443.25 68.10z" fill="#9a9082"/>
<path d="M443.25 64.20L446.85 70.50L443.25 68.10z" fill="#c8d2de"/>
<path d="M476.00 94.70L472.40 101.00L476.00 98.60z" fill="#9a9082"/>
<path d="M476.00 94.70L479.60 101.00L476.00 98.60z" fill="#c8d2de"/>
<path d="M495.00 99.20L491.40 105.50L495.00 103.10z" fill="#9a9082"/>
<path d="M495.00 99.20L498.60 105.50L495.00 103.10z" fill="#c8d2de"/>
<path d="M518.25 92.95L514.65 99.25L518.25 96.85z" fill="#9a9082"/>
<path d="M518.25 92.95L521.85 99.25L518.25 96.85z" fill="#c8d2de"/>
<path d="M542.00 127.95L538.40 134.25L542.00 131.85z" fill="#9a9082"/>
<path d="M542.00 127.95L545.60 134.25L542.00 131.85z" fill="#c8d2de"/>
<path d="M565.50 121.70L561.90 128.00L565.50 125.60z" fill="#9a9082"/>
<path d="M565.50 121.70L569.10 128.00L565.50 125.60z" fill="#c8d2de"/>
<path d="M579.50 110.45L575.90 116.75L579.50 114.35z" fill="#9a9082"/>
<path d="M579.50 110.45L583.10 116.75L579.50 114.35z" fill="#c8d2de"/>
<path d="M631.50 127.95L627.90 134.25L631.50 131.85z" fill="#9a9082"/>
<path d="M631.50 127.95L635.10 134.25L631.50 131.85z" fill="#c8d2de"/>
<path d="M34.50 208.30L30.90 202.00L34.50 204.40z" fill="#d2cabe"/>
<path d="M34.50 208.30L38.10 202.00L34.50 204.40z" fill="#7e8696"/>
<path d="M53.00 210.30L49.40 204.00L53.00 206.40z" fill="#d2cabe"/>
<path d="M53.00 210.30L56.60 204.00L53.00 206.40z" fill="#7e8696"/>
<path d="M76.50 154.50L72.90 148.20L76.50 150.60z" fill="#d2cabe"/>
<path d="M76.50 154.50L80.10 148.20L76.50 150.60z" fill="#7e8696"/>
<path d="M133.25 99.55L129.65 93.25L133.25 95.65z" fill="#d2cabe"/>
<path d="M133.25 99.55L136.85 93.25L133.25 95.65z" fill="#7e8696"/>
<path d="M170.50 87.80L166.90 81.50L170.50 83.90z" fill="#d2cabe"/>
<path d="M170.50 87.80L174.10 81.50L170.50 83.90z" fill="#7e8696"/>
<path d="M203.75 65.80L200.15 59.50L203.75 61.90z" fill="#d2cabe"/>
<path d="M203.75 65.80L207.35 59.50L203.75 61.90z" fill="#7e8696"/>
<path d="M227.00 56.30L223.40 50.00L227.00 52.40z" fill="#d2cabe"/>
<path d="M227.00 56.30L230.60 50.00L227.00 52.40z" fill="#7e8696"/>
<path d="M255.00 88.30L251.40 82.00L255.00 84.40z" fill="#d2cabe"/>
<path d="M255.00 88.30L258.60 82.00L255.00 84.40z" fill="#7e8696"/>
<path d="M288.50 121.60L284.90 115.30L288.50 117.70z" fill="#d2cabe"/>
<path d="M288.50 121.60L292.10 115.30L288.50 117.70z" fill="#7e8696"/>
<path d="M316.50 76.80L312.90 70.50L316.50 72.90z" fill="#d2cabe"/>
<path d="M316.50 76.80L320.10 70.50L316.50 72.90z" fill="#7e8696"/>
<path d="M363.50 97.05L359.90 90.75L363.50 93.15z" fill="#d2cabe"/>
<path d="M363.50 97.05L367.10 90.75L363.50 93.15z" fill="#7e8696"/>
<path d="M382.00 106.05L378.40 99.75L382.00 102.15z" fill="#d2cabe"/>
<path d="M382.00 106.05L385.60 99.75L382.00 102.15z" fill="#7e8696"/>
<path d="M396.25 103.80L392.65 97.50L396.25 99.90z" fill="#d2cabe"/>
<path d="M396.25 103.80L399.85 97.50L396.25 99.90z" fill="#7e8696"/>
<path d="M415.00 105.80L411.40 99.50L415.00 101.90z" fill="#d2cabe"/>
<path d="M415.00 105.80L418.60 99.50L415.00 101.90z" fill="#7e8696"/>
<path d="M428.75 109.55L425.15 103.25L428.75 105.65z" fill="#d2cabe"/>
<path d="M428.75 109.55L432.35 103.25L428.75 105.65z" fill="#7e8696"/>
<path d="M471.50 151.60L467.90 145.30L471.50 147.70z" fill="#d2cabe"/>
<path d="M471.50 151.60L475.10 145.30L471.50 147.70z" fill="#7e8696"/>
<path d="M490.00 161.30L486.40 155.00L490.00 157.40z" fill="#d2cabe"/>
<path d="M490.00 161.30L493.60 155.00L490.00 157.40z" fill="#7e8696"/>
<path d="M504.50 168.80L500.90 162.50L504.50 164.90z" fill="#d2cabe"/>
<path d="M504.50 168.80L508.10 162.50L504.50 164.90z" fill="#7e8696"/>
<path d="M523.25 162.80L519.65 156.50L523.25 158.90z" fill="#d2cabe"/>
<path d="M523.25 162.80L526.85 156.50L523.25 158.90z" fill="#7e8696"/>
<path d="M542.00 168.80L538.40 162.50L542.00 164.90z" fill="#d2cabe"/>
<path d="M542.00 168.80L545.60 162.50L542.00 164.90z" fill="#7e8696"/>
<path d="M556.25 164.55L552.65 158.25L556.25 160.65z" fill="#d2cabe"/>
<path d="M556.25 164.55L559.85 158.25L556.25 160.65z" fill="#7e8696"/>
<path d="M603.00 257.30L599.40 251.00L603.00 253.40z" fill="#d2cabe"/>
<path d="M603.00 257.30L606.60 251.00L603.00 253.40z" fill="#7e8696"/>
<path d="M659.2 156.2 l-4.6 4.8 h2.5 v6.3 h4.2 v-6.3 h2.5 z" fill="none" stroke="#33cc33" stroke-width="0.85"/>
<path d="M659.2 184.2 l-4.6 -4.8 h2.5 v-5.9 h4.2 v5.9 h2.5 z" fill="none" stroke="#ff4040" stroke-width="0.85"/>
</g>
<g clip-path="url(#pa)">
<path d="M0.45 280.30h2.40v5.70h-2.40z M5.15 277.30h2.40v8.70h-2.40z M9.84 275.10h2.40v10.90h-2.40z M14.54 272.60h2.40v13.40h-2.40z M19.23 271.00h2.40v15.00h-2.40z M23.93 270.10h2.40v15.90h-2.40z M56.80 272.00h2.40v14.00h-2.40z M61.50 269.80h2.40v16.20h-2.40z M66.19 268.10h2.40v17.90h-2.40z M70.89 266.80h2.40v19.20h-2.40z M75.59 265.30h2.40v20.70h-2.40z M80.28 264.00h2.40v22.00h-2.40z M99.07 265.10h2.40v20.90h-2.40z M103.76 264.00h2.40v22.00h-2.40z M108.46 262.60h2.40v23.40h-2.40z M113.15 261.00h2.40v25.00h-2.40z M117.85 259.80h2.40v26.20h-2.40z M122.55 259.50h2.40v26.50h-2.40z M146.03 267.00h2.40v19.00h-2.40z M150.72 266.50h2.40v19.50h-2.40z M155.42 266.00h2.40v20.00h-2.40z M160.11 265.30h2.40v20.70h-2.40z M221.16 277.80h2.40v8.20h-2.40z M225.86 276.90h2.40v9.10h-2.40z M230.55 276.90h2.40v9.10h-2.40z M239.95 277.00h2.40v9.00h-2.40z M244.64 276.40h2.40v9.60h-2.40z M300.99 286.00h2.40v8.20h-2.40z M305.69 286.00h2.40v5.40h-2.40z M310.39 286.00h2.40v2.90h-2.40z M315.08 286.00h2.40v2.90h-2.40z M319.78 286.00h2.40v2.10h-2.40z M324.47 286.00h2.40v1.70h-2.40z M333.87 286.00h2.40v2.60h-2.40z M338.56 286.00h2.40v1.20h-2.40z M343.26 285.65h2.40v0.70h-2.40z M347.95 284.80h2.40v1.20h-2.40z M352.65 284.30h2.40v1.70h-2.40z M385.52 286.00h2.40v4.10h-2.40z M399.61 286.00h2.40v4.90h-2.40z M404.31 286.00h2.40v3.40h-2.40z M488.83 286.00h2.40v12.40h-2.40z M493.53 286.00h2.40v10.90h-2.40z M502.92 286.00h2.40v10.90h-2.40z M507.62 286.00h2.40v10.90h-2.40z M512.31 286.00h2.40v9.60h-2.40z M517.01 286.00h2.40v9.20h-2.40z M526.40 286.00h2.40v8.40h-2.40z M531.10 286.00h2.40v7.90h-2.40z M545.19 286.00h2.40v9.10h-2.40z M554.58 286.00h2.40v8.40h-2.40z M559.27 286.00h2.40v7.90h-2.40z M563.97 286.00h2.40v6.70h-2.40z M568.67 286.00h2.40v5.40h-2.40z M573.36 286.00h2.40v4.20h-2.40z M578.06 286.00h2.40v2.60h-2.40z M610.93 286.00h2.40v20.90h-2.40z M615.63 286.00h2.40v19.20h-2.40z M620.32 286.00h2.40v16.20h-2.40z M625.02 286.00h2.40v11.60h-2.40z M629.71 286.00h2.40v6.60h-2.40z M634.41 286.00h2.40v2.60h-2.40z M639.11 285.65h2.40v0.70h-2.40z M643.80 285.10h2.40v0.90h-2.40z" fill="#008000"/>
<path d="M28.63 271.00h2.40v15.00h-2.40z M33.32 271.00h2.40v15.00h-2.40z M38.02 271.00h2.40v15.00h-2.40z M42.71 271.30h2.40v14.70h-2.40z M47.41 272.00h2.40v14.00h-2.40z M52.11 272.60h2.40v13.40h-2.40z M84.98 264.00h2.40v22.00h-2.40z M89.67 265.10h2.40v20.90h-2.40z M94.37 265.10h2.40v20.90h-2.40z M127.24 260.20h2.40v25.80h-2.40z M131.94 263.10h2.40v22.90h-2.40z M136.63 266.00h2.40v20.00h-2.40z M141.33 267.00h2.40v19.00h-2.40z M164.81 266.00h2.40v20.00h-2.40z M169.51 268.50h2.40v17.50h-2.40z M174.20 270.60h2.40v15.40h-2.40z M178.90 272.30h2.40v13.70h-2.40z M183.59 273.10h2.40v12.90h-2.40z M188.29 275.30h2.40v10.70h-2.40z M192.99 275.30h2.40v10.70h-2.40z M197.68 276.00h2.40v10.00h-2.40z M202.38 276.00h2.40v10.00h-2.40z M207.07 276.90h2.40v9.10h-2.40z M211.77 277.80h2.40v8.20h-2.40z M216.47 277.80h2.40v8.20h-2.40z M235.25 276.90h2.40v9.10h-2.40z M249.34 276.40h2.40v9.60h-2.40z M254.03 279.40h2.40v6.60h-2.40z M258.73 281.10h2.40v4.90h-2.40z M263.43 283.90h2.40v2.10h-2.40z M268.12 285.65h2.40v0.70h-2.40z M272.82 286.00h2.40v2.10h-2.40z M277.51 286.00h2.40v2.90h-2.40z M282.21 286.00h2.40v5.40h-2.40z M286.91 286.00h2.40v8.20h-2.40z M291.60 286.00h2.40v9.20h-2.40z M296.30 286.00h2.40v9.90h-2.40z M329.17 286.00h2.40v2.60h-2.40z M357.35 284.30h2.40v1.70h-2.40z M362.04 286.00h2.40v0.60h-2.40z M366.74 286.00h2.40v1.70h-2.40z M371.43 286.00h2.40v2.60h-2.40z M376.13 286.00h2.40v3.70h-2.40z M380.83 286.00h2.40v4.90h-2.40z M390.22 286.00h2.40v4.10h-2.40z M394.91 286.00h2.40v5.40h-2.40z M409.00 286.00h2.40v4.20h-2.40z M413.70 286.00h2.40v4.90h-2.40z M418.39 286.00h2.40v4.90h-2.40z M423.09 286.00h2.40v5.10h-2.40z M427.79 286.00h2.40v5.90h-2.40z M432.48 286.00h2.40v6.70h-2.40z M437.18 286.00h2.40v6.70h-2.40z M441.87 286.00h2.40v6.70h-2.40z M446.57 286.00h2.40v6.70h-2.40z M451.27 286.00h2.40v6.70h-2.40z M455.96 286.00h2.40v7.60h-2.40z M460.66 286.00h2.40v8.20h-2.40z M465.35 286.00h2.40v9.90h-2.40z M470.05 286.00h2.40v11.70h-2.40z M474.75 286.00h2.40v11.70h-2.40z M479.44 286.00h2.40v12.20h-2.40z M484.14 286.00h2.40v12.40h-2.40z M498.23 286.00h2.40v11.60h-2.40z M521.71 286.00h2.40v9.20h-2.40z M535.79 286.00h2.40v8.70h-2.40z M540.49 286.00h2.40v9.60h-2.40z M549.88 286.00h2.40v9.20h-2.40z M582.75 286.00h2.40v3.70h-2.40z M587.45 286.00h2.40v6.70h-2.40z M592.15 286.00h2.40v10.90h-2.40z M596.84 286.00h2.40v14.50h-2.40z M601.54 286.00h2.40v19.50h-2.40z M606.23 286.00h2.40v21.50h-2.40z M648.50 285.10h2.40v0.90h-2.40z" fill="#ff0000"/>
</g>
<g clip-path="url(#pc)">
<path d="M0.45 336.40h2.40v7.20h-2.40z M5.15 331.80h2.40v11.80h-2.40z M9.84 330.10h2.40v13.50h-2.40z M14.54 329.30h2.40v14.30h-2.40z M56.80 343.10h2.40v0.50h-2.40z M61.50 338.10h2.40v5.50h-2.40z M66.19 335.30h2.40v8.30h-2.40z M70.89 334.80h2.40v8.80h-2.40z M75.59 334.00h2.40v9.60h-2.40z M99.07 343.25h2.40v0.70h-2.40z M103.76 341.90h2.40v1.70h-2.40z M108.46 339.00h2.40v4.60h-2.40z M113.15 335.30h2.40v8.30h-2.40z M141.33 343.60h2.40v11.10h-2.40z M146.03 343.60h2.40v5.60h-2.40z M150.72 343.60h2.40v1.20h-2.40z M155.42 342.30h2.40v1.30h-2.40z M160.11 340.60h2.40v3.00h-2.40z M183.59 343.60h2.40v9.00h-2.40z M192.99 343.60h2.40v5.60h-2.40z M197.68 343.60h2.40v3.60h-2.40z M202.38 343.60h2.40v2.00h-2.40z M211.77 343.60h2.40v2.80h-2.40z M216.47 343.60h2.40v1.70h-2.40z M221.16 343.60h2.40v0.70h-2.40z M225.86 343.25h2.40v0.70h-2.40z M230.55 343.25h2.40v0.70h-2.40z M239.95 342.30h2.40v1.30h-2.40z M244.64 341.40h2.40v2.20h-2.40z M272.82 343.60h2.40v11.60h-2.40z M277.51 343.60h2.40v8.30h-2.40z M291.60 343.60h2.40v10.60h-2.40z M296.30 343.60h2.40v7.30h-2.40z M300.99 343.25h2.40v0.70h-2.40z M305.69 335.30h2.40v8.30h-2.40z M310.39 332.00h2.40v11.60h-2.40z M333.87 343.25h2.40v0.70h-2.40z M338.56 340.90h2.40v2.70h-2.40z M343.26 339.00h2.40v4.60h-2.40z M347.95 338.10h2.40v5.50h-2.40z M371.43 343.60h2.40v5.80h-2.40z M385.52 343.60h2.40v2.30h-2.40z M390.22 343.60h2.40v1.20h-2.40z M399.61 343.25h2.40v0.70h-2.40z M404.31 340.60h2.40v3.00h-2.40z M432.48 343.60h2.40v2.00h-2.40z M437.18 343.60h2.40v1.70h-2.40z M441.87 343.25h2.40v0.70h-2.40z M446.57 343.25h2.40v0.70h-2.40z M474.75 343.60h2.40v5.00h-2.40z M479.44 343.60h2.40v2.80h-2.40z M484.14 343.60h2.40v1.20h-2.40z M488.83 343.25h2.40v0.70h-2.40z M493.53 342.30h2.40v1.30h-2.40z M512.31 340.30h2.40v3.30h-2.40z M517.01 339.30h2.40v4.30h-2.40z M526.40 341.40h2.40v2.20h-2.40z M545.19 343.25h2.40v0.70h-2.40z M549.88 343.25h2.40v0.70h-2.40z M554.58 342.30h2.40v1.30h-2.40z M559.27 340.60h2.40v3.00h-2.40z M563.97 339.00h2.40v4.60h-2.40z M568.67 338.10h2.40v5.50h-2.40z M573.36 337.30h2.40v6.30h-2.40z M578.06 336.00h2.40v7.60h-2.40z M606.23 343.60h2.40v19.80h-2.40z M610.93 343.60h2.40v10.00h-2.40z M615.63 343.25h2.40v0.70h-2.40z M620.32 333.60h2.40v10.00h-2.40z M625.02 324.80h2.40v18.80h-2.40z M629.71 320.20h2.40v23.40h-2.40z M634.41 319.50h2.40v24.10h-2.40z" fill="#008000"/>
<path d="M19.23 330.10h2.40v13.50h-2.40z M23.93 334.80h2.40v8.80h-2.40z M28.63 340.10h2.40v3.50h-2.40z M33.32 343.25h2.40v0.70h-2.40z M38.02 343.60h2.40v1.20h-2.40z M42.71 343.60h2.40v1.50h-2.40z M47.41 343.60h2.40v2.00h-2.40z M52.11 343.60h2.40v2.00h-2.40z M80.28 334.80h2.40v8.80h-2.40z M84.98 339.00h2.40v4.60h-2.40z M89.67 343.25h2.40v0.70h-2.40z M94.37 343.60h2.40v1.70h-2.40z M117.85 336.00h2.40v7.60h-2.40z M122.55 338.10h2.40v5.50h-2.40z M127.24 343.25h2.40v0.70h-2.40z M131.94 343.60h2.40v7.30h-2.40z M136.63 343.60h2.40v12.00h-2.40z M164.81 343.25h2.40v0.70h-2.40z M169.51 343.60h2.40v5.00h-2.40z M174.20 343.60h2.40v9.10h-2.40z M178.90 343.60h2.40v10.30h-2.40z M188.29 343.60h2.40v9.10h-2.40z M207.07 343.60h2.40v3.10h-2.40z M235.25 343.60h2.40v0.70h-2.40z M249.34 343.25h2.40v0.70h-2.40z M254.03 343.60h2.40v5.30h-2.40z M258.73 343.60h2.40v8.60h-2.40z M263.43 343.60h2.40v12.80h-2.40z M268.12 343.60h2.40v13.30h-2.40z M282.21 343.60h2.40v10.30h-2.40z M286.91 343.60h2.40v11.60h-2.40z M315.08 334.80h2.40v8.80h-2.40z M319.78 336.90h2.40v6.70h-2.40z M324.47 339.80h2.40v3.80h-2.40z M329.17 343.25h2.40v0.70h-2.40z M352.65 338.10h2.40v5.50h-2.40z M357.35 340.90h2.40v2.70h-2.40z M362.04 343.60h2.40v2.80h-2.40z M366.74 343.60h2.40v5.80h-2.40z M376.13 343.60h2.40v5.80h-2.40z M380.83 343.60h2.40v6.10h-2.40z M394.91 343.60h2.40v2.80h-2.40z M409.00 342.30h2.40v1.30h-2.40z M413.70 343.25h2.40v0.70h-2.40z M418.39 343.25h2.40v0.70h-2.40z M423.09 343.60h2.40v2.80h-2.40z M427.79 343.60h2.40v3.30h-2.40z M451.27 343.60h2.40v0.70h-2.40z M455.96 343.60h2.40v2.80h-2.40z M460.66 343.60h2.40v3.30h-2.40z M465.35 343.60h2.40v6.10h-2.40z M470.05 343.60h2.40v7.30h-2.40z M498.23 342.60h2.40v1.00h-2.40z M502.92 342.60h2.40v1.00h-2.40z M507.62 343.25h2.40v0.70h-2.40z M521.71 341.40h2.40v2.20h-2.40z M531.10 341.40h2.40v2.20h-2.40z M535.79 343.25h2.40v0.70h-2.40z M540.49 343.60h2.40v2.00h-2.40z M582.75 340.60h2.40v3.00h-2.40z M587.45 343.60h2.40v5.60h-2.40z M592.15 343.60h2.40v14.00h-2.40z M596.84 343.60h2.40v18.90h-2.40z M601.54 343.60h2.40v23.90h-2.40z M639.11 321.80h2.40v21.80h-2.40z M643.80 329.00h2.40v14.60h-2.40z M648.50 336.40h2.40v7.20h-2.40z" fill="#ff0000"/>
</g>
<g clip-path="url(#pg)">
<path d="M0.45 405.50h2.40v5.20h-2.40z M5.15 405.50h2.40v5.40h-2.40z M9.84 404.90h2.40v0.60h-2.40z M9.84 405.50h2.40v7.30h-2.40z M14.54 403.50h2.40v2.00h-2.40z M14.54 405.50h2.40v10.20h-2.40z M19.23 402.10h2.40v3.40h-2.40z M19.23 405.50h2.40v12.40h-2.40z M23.93 399.00h2.40v6.50h-2.40z M23.93 405.50h2.40v12.40h-2.40z M28.63 396.60h2.40v8.90h-2.40z M33.32 394.90h2.40v10.60h-2.40z M33.32 405.50h2.40v15.50h-2.40z M38.02 394.20h2.40v11.30h-2.40z M42.71 393.30h2.40v12.20h-2.40z M47.41 393.30h2.40v12.20h-2.40z M52.11 405.50h2.40v8.20h-2.40z M56.80 405.50h2.40v9.40h-2.40z M61.50 394.90h2.40v10.60h-2.40z M66.19 394.20h2.40v11.30h-2.40z M70.89 405.50h2.40v5.20h-2.40z M75.59 405.50h2.40v10.90h-2.40z M80.28 405.50h2.40v15.50h-2.40z M84.98 393.70h2.40v11.80h-2.40z M89.67 389.70h2.40v15.80h-2.40z M94.37 388.00h2.40v17.50h-2.40z M94.37 405.50h2.40v13.00h-2.40z M99.07 405.50h2.40v15.50h-2.40z M108.46 387.30h2.40v18.20h-2.40z M113.15 386.60h2.40v18.90h-2.40z M113.15 405.50h2.40v15.50h-2.40z M117.85 386.20h2.40v19.30h-2.40z M117.85 405.50h2.40v15.50h-2.40z M122.55 405.50h2.40v15.50h-2.40z M127.24 385.00h2.40v20.50h-2.40z M127.24 405.50h2.40v15.50h-2.40z M131.94 382.20h2.40v23.30h-2.40z M136.63 379.70h2.40v25.80h-2.40z M141.33 379.60h2.40v25.90h-2.40z M155.42 405.50h2.40v12.10h-2.40z M160.11 405.50h2.40v15.50h-2.40z M164.81 386.20h2.40v19.30h-2.40z M164.81 405.50h2.40v15.50h-2.40z M169.51 385.30h2.40v20.20h-2.40z M174.20 384.00h2.40v21.50h-2.40z M197.68 405.50h2.40v5.30h-2.40z M207.07 392.00h2.40v13.50h-2.40z M211.77 405.50h2.40v5.10h-2.40z M216.47 392.40h2.40v13.10h-2.40z M221.16 405.50h2.40v4.10h-2.40z M225.86 405.50h2.40v5.10h-2.40z M230.55 405.50h2.40v6.10h-2.40z M235.25 394.00h2.40v11.50h-2.40z M235.25 405.50h2.40v6.40h-2.40z M239.95 393.30h2.40v12.20h-2.40z M244.64 393.00h2.40v12.50h-2.40z M244.64 405.50h2.40v5.50h-2.40z M249.34 405.50h2.40v6.80h-2.40z M254.03 405.50h2.40v8.10h-2.40z M258.73 394.00h2.40v11.50h-2.40z M258.73 405.50h2.40v9.50h-2.40z M263.43 392.40h2.40v13.10h-2.40z M268.12 392.00h2.40v13.50h-2.40z M272.82 405.50h2.40v2.00h-2.40z M286.91 405.50h2.40v3.30h-2.40z M291.60 401.30h2.40v4.20h-2.40z M291.60 405.50h2.40v7.30h-2.40z M296.30 405.50h2.40v10.80h-2.40z M300.99 405.50h2.40v11.30h-2.40z M305.69 401.30h2.40v4.20h-2.40z M310.39 399.30h2.40v6.20h-2.40z M329.17 404.50h2.40v1.00h-2.40z M329.17 405.50h2.40v1.00h-2.40z M333.87 405.00h2.40v0.50h-2.40z M333.87 405.50h2.40v1.50h-2.40z M343.26 404.30h2.40v1.20h-2.40z M352.65 405.50h2.40v2.40h-2.40z M357.35 405.50h2.40v3.10h-2.40z M362.04 403.80h2.40v1.70h-2.40z M362.04 405.50h2.40v3.70h-2.40z M366.74 403.00h2.40v2.50h-2.40z M371.43 402.20h2.40v3.30h-2.40z M376.13 405.50h2.40v2.40h-2.40z M380.83 405.50h2.40v3.30h-2.40z M390.22 403.50h2.40v2.00h-2.40z M390.22 405.50h2.40v1.10h-2.40z M394.91 405.50h2.40v5.10h-2.40z M404.31 402.20h2.40v3.30h-2.40z M409.00 401.90h2.40v3.60h-2.40z M409.00 405.50h2.40v4.10h-2.40z M413.70 401.30h2.40v4.20h-2.40z M423.09 405.50h2.40v3.70h-2.40z M427.79 405.50h2.40v5.50h-2.40z M432.48 401.30h2.40v4.20h-2.40z M437.18 400.20h2.40v5.30h-2.40z M441.87 399.30h2.40v6.20h-2.40z M441.87 405.50h2.40v5.50h-2.40z M446.57 399.30h2.40v6.20h-2.40z M451.27 399.30h2.40v6.20h-2.40z M455.96 399.30h2.40v6.20h-2.40z M460.66 398.90h2.40v6.60h-2.40z M465.35 405.50h2.40v4.90h-2.40z M470.05 405.50h2.40v7.10h-2.40z M474.75 399.30h2.40v6.20h-2.40z M474.75 405.50h2.40v7.10h-2.40z M479.44 397.90h2.40v7.60h-2.40z M479.44 405.50h2.40v8.10h-2.40z M484.14 396.60h2.40v8.90h-2.40z M484.14 405.50h2.40v9.50h-2.40z M488.83 395.30h2.40v10.20h-2.40z M493.53 395.00h2.40v10.50h-2.40z M498.23 405.50h2.40v7.70h-2.40z M502.92 405.50h2.40v8.10h-2.40z M512.31 395.00h2.40v10.50h-2.40z M517.01 405.50h2.40v7.70h-2.40z M521.71 395.00h2.40v10.50h-2.40z M526.40 395.00h2.40v10.50h-2.40z M531.10 395.00h2.40v10.50h-2.40z M535.79 405.50h2.40v5.10h-2.40z M540.49 405.50h2.40v6.40h-2.40z M545.19 396.60h2.40v8.90h-2.40z M549.88 396.60h2.40v8.90h-2.40z M549.88 405.50h2.40v6.00h-2.40z M554.58 395.30h2.40v10.20h-2.40z M554.58 405.50h2.40v6.00h-2.40z M563.97 396.00h2.40v9.50h-2.40z M596.84 405.50h2.40v2.40h-2.40z M601.54 405.50h2.40v11.30h-2.40z M606.23 400.20h2.40v5.30h-2.40z M606.23 405.50h2.40v15.50h-2.40z M610.93 394.60h2.40v10.90h-2.40z M610.93 405.50h2.40v15.50h-2.40z M615.63 389.70h2.40v15.80h-2.40z M615.63 405.50h2.40v15.50h-2.40z M620.32 386.60h2.40v18.90h-2.40z M625.02 384.90h2.40v20.60h-2.40z M643.80 405.50h2.40v3.80h-2.40z M648.50 405.50h2.40v4.00h-2.40z M662.59 405.50h2.40v1.90h-2.40z M667.28 402.40h2.40v3.10h-2.40z M671.98 402.40h2.40v3.10h-2.40z" fill="#008000"/>
<path d="M5.15 404.50h2.40v1.00h-2.40z M28.63 405.50h2.40v12.10h-2.40z M38.02 405.50h2.40v13.00h-2.40z M42.71 405.50h2.40v10.00h-2.40z M47.41 405.50h2.40v8.20h-2.40z M52.11 393.70h2.40v11.80h-2.40z M56.80 395.40h2.40v10.10h-2.40z M61.50 405.50h2.40v7.00h-2.40z M66.19 405.50h2.40v4.20h-2.40z M70.89 394.90h2.40v10.60h-2.40z M75.59 396.60h2.40v8.90h-2.40z M80.28 396.60h2.40v8.90h-2.40z M84.98 405.50h2.40v15.50h-2.40z M89.67 405.50h2.40v12.10h-2.40z M99.07 389.30h2.40v16.20h-2.40z M103.76 389.30h2.40v16.20h-2.40z M103.76 405.50h2.40v15.50h-2.40z M108.46 405.50h2.40v15.50h-2.40z M122.55 386.20h2.40v19.30h-2.40z M131.94 405.50h2.40v15.50h-2.40z M136.63 405.50h2.40v15.50h-2.40z M141.33 405.50h2.40v13.00h-2.40z M146.03 381.30h2.40v24.20h-2.40z M146.03 405.50h2.40v10.80h-2.40z M150.72 384.40h2.40v21.10h-2.40z M150.72 405.50h2.40v10.40h-2.40z M155.42 386.20h2.40v19.30h-2.40z M160.11 387.30h2.40v18.20h-2.40z M169.51 405.50h2.40v12.40h-2.40z M174.20 405.50h2.40v11.30h-2.40z M178.90 385.00h2.40v20.50h-2.40z M178.90 405.50h2.40v10.80h-2.40z M183.59 385.30h2.40v20.20h-2.40z M183.59 405.50h2.40v8.00h-2.40z M188.29 386.20h2.40v19.30h-2.40z M188.29 405.50h2.40v5.50h-2.40z M192.99 388.00h2.40v17.50h-2.40z M192.99 405.50h2.40v4.10h-2.40z M197.68 390.00h2.40v15.50h-2.40z M202.38 392.40h2.40v13.10h-2.40z M202.38 405.50h2.40v5.30h-2.40z M207.07 405.50h2.40v5.10h-2.40z M211.77 392.40h2.40v13.10h-2.40z M216.47 405.50h2.40v3.70h-2.40z M221.16 393.30h2.40v12.20h-2.40z M225.86 394.00h2.40v11.50h-2.40z M230.55 394.00h2.40v11.50h-2.40z M239.95 405.50h2.40v5.10h-2.40z M249.34 394.00h2.40v11.50h-2.40z M254.03 394.00h2.40v11.50h-2.40z M263.43 405.50h2.40v5.50h-2.40z M268.12 405.15h2.40v0.70h-2.40z M272.82 393.30h2.40v12.20h-2.40z M277.51 397.70h2.40v7.80h-2.40z M277.51 405.50h2.40v1.30h-2.40z M282.21 400.60h2.40v4.90h-2.40z M282.21 405.50h2.40v0.80h-2.40z M286.91 401.90h2.40v3.60h-2.40z M296.30 403.00h2.40v2.50h-2.40z M305.69 405.50h2.40v7.30h-2.40z M310.39 405.50h2.40v5.50h-2.40z M315.08 400.60h2.40v4.90h-2.40z M315.08 405.50h2.40v3.70h-2.40z M319.78 401.90h2.40v3.60h-2.40z M319.78 405.50h2.40v0.80h-2.40z M324.47 403.50h2.40v2.00h-2.40z M338.56 405.00h2.40v0.50h-2.40z M338.56 405.50h2.40v0.80h-2.40z M347.95 404.30h2.40v1.20h-2.40z M347.95 405.50h2.40v0.80h-2.40z M366.74 405.50h2.40v3.30h-2.40z M371.43 405.50h2.40v1.50h-2.40z M376.13 402.20h2.40v3.30h-2.40z M380.83 403.30h2.40v2.20h-2.40z M385.52 404.80h2.40v0.70h-2.40z M385.52 405.50h2.40v0.90h-2.40z M394.91 404.30h2.40v1.20h-2.40z M399.61 404.30h2.40v1.20h-2.40z M399.61 405.50h2.40v5.10h-2.40z M404.31 405.50h2.40v3.70h-2.40z M413.70 405.50h2.40v3.10h-2.40z M418.39 401.90h2.40v3.60h-2.40z M418.39 405.50h2.40v2.40h-2.40z M423.09 401.90h2.40v3.60h-2.40z M427.79 401.90h2.40v3.60h-2.40z M432.48 405.50h2.40v5.50h-2.40z M437.18 405.50h2.40v5.10h-2.40z M446.57 405.50h2.40v5.10h-2.40z M451.27 405.50h2.40v5.10h-2.40z M455.96 405.50h2.40v3.70h-2.40z M460.66 405.50h2.40v3.10h-2.40z M465.35 400.00h2.40v5.50h-2.40z M470.05 400.20h2.40v5.30h-2.40z M488.83 405.50h2.40v7.70h-2.40z M493.53 405.50h2.40v7.70h-2.40z M498.23 395.00h2.40v10.50h-2.40z M502.92 395.30h2.40v10.20h-2.40z M507.62 395.30h2.40v10.20h-2.40z M507.62 405.50h2.40v7.10h-2.40z M512.31 405.50h2.40v6.40h-2.40z M517.01 395.30h2.40v10.20h-2.40z M521.71 405.50h2.40v7.70h-2.40z M526.40 405.50h2.40v5.10h-2.40z M531.10 405.50h2.40v3.30h-2.40z M535.79 396.00h2.40v9.50h-2.40z M540.49 397.30h2.40v8.20h-2.40z M545.19 405.50h2.40v5.10h-2.40z M559.27 396.00h2.40v9.50h-2.40z M559.27 405.50h2.40v5.10h-2.40z M563.97 405.50h2.40v5.50h-2.40z M568.67 396.00h2.40v9.50h-2.40z M568.67 405.50h2.40v4.70h-2.40z M573.36 396.00h2.40v9.50h-2.40z M573.36 405.50h2.40v3.70h-2.40z M578.06 396.60h2.40v8.90h-2.40z M578.06 405.50h2.40v1.70h-2.40z M582.75 397.30h2.40v8.20h-2.40z M582.75 405.50h2.40v1.10h-2.40z M587.45 398.20h2.40v7.30h-2.40z M587.45 405.15h2.40v0.70h-2.40z M592.15 399.30h2.40v6.20h-2.40z M596.84 400.30h2.40v5.20h-2.40z M601.54 401.90h2.40v3.60h-2.40z M620.32 405.50h2.40v15.50h-2.40z M625.02 405.50h2.40v15.50h-2.40z M629.71 385.40h2.40v20.10h-2.40z M629.71 405.50h2.40v12.10h-2.40z M634.41 386.60h2.40v18.90h-2.40z M634.41 405.50h2.40v7.20h-2.40z M639.11 388.50h2.40v17.00h-2.40z M643.80 392.10h2.40v13.40h-2.40z M648.50 396.70h2.40v8.80h-2.40z M653.19 400.80h2.40v4.70h-2.40z M653.19 405.50h2.40v2.30h-2.40z M657.89 403.00h2.40v2.50h-2.40z M657.89 405.50h2.40v2.10h-2.40z M662.59 403.00h2.40v2.50h-2.40z" fill="#ff0000"/>
</g>
<path d="M1.6 0V420" stroke="#505050" stroke-width="1.2"/>
<path d="M721.30 0V420" stroke="#6e6e6e" stroke-width="1"/>
<path d="M1 253.90H721.30" stroke="#555" stroke-width="1.7"/>
<path d="M1 313.90H721.30" stroke="#555" stroke-width="1.7"/>
<path d="M1 373.90H721.30" stroke="#555" stroke-width="1.7"/>
<text x="724.50" y="6.30" font-family="Liberation Sans, sans-serif" font-size="6.6" fill="#000" stroke="#000" stroke-width="0.08" textLength="19.10" lengthAdjust="spacingAndGlyphs">1.34590</text>
<text x="724.50" y="25.50" font-family="Liberation Sans, sans-serif" font-size="6.6" fill="#000" stroke="#000" stroke-width="0.08" textLength="19.10" lengthAdjust="spacingAndGlyphs">1.34470</text>
<text x="724.50" y="44.70" font-family="Liberation Sans, sans-serif" font-size="6.6" fill="#000" stroke="#000" stroke-width="0.08" textLength="19.10" lengthAdjust="spacingAndGlyphs">1.34350</text>
<text x="724.50" y="63.90" font-family="Liberation Sans, sans-serif" font-size="6.6" fill="#000" stroke="#000" stroke-width="0.08" textLength="19.10" lengthAdjust="spacingAndGlyphs">1.34230</text>
<text x="724.50" y="83.10" font-family="Liberation Sans, sans-serif" font-size="6.6" fill="#000" stroke="#000" stroke-width="0.08" textLength="19.10" lengthAdjust="spacingAndGlyphs">1.34110</text>
<text x="724.50" y="102.30" font-family="Liberation Sans, sans-serif" font-size="6.6" fill="#000" stroke="#000" stroke-width="0.08" textLength="19.10" lengthAdjust="spacingAndGlyphs">1.33990</text>
<text x="724.50" y="121.50" font-family="Liberation Sans, sans-serif" font-size="6.6" fill="#000" stroke="#000" stroke-width="0.08" textLength="19.10" lengthAdjust="spacingAndGlyphs">1.33870</text>
<text x="724.50" y="140.70" font-family="Liberation Sans, sans-serif" font-size="6.6" fill="#000" stroke="#000" stroke-width="0.08" textLength="19.10" lengthAdjust="spacingAndGlyphs">1.33750</text>
<text x="724.50" y="159.90" font-family="Liberation Sans, sans-serif" font-size="6.6" fill="#000" stroke="#000" stroke-width="0.08" textLength="19.10" lengthAdjust="spacingAndGlyphs">1.33630</text>
<text x="724.50" y="179.10" font-family="Liberation Sans, sans-serif" font-size="6.6" fill="#000" stroke="#000" stroke-width="0.08" textLength="19.10" lengthAdjust="spacingAndGlyphs">1.33510</text>
<text x="724.50" y="198.30" font-family="Liberation Sans, sans-serif" font-size="6.6" fill="#000" stroke="#000" stroke-width="0.08" textLength="19.10" lengthAdjust="spacingAndGlyphs">1.33390</text>
<text x="724.50" y="217.50" font-family="Liberation Sans, sans-serif" font-size="6.6" fill="#000" stroke="#000" stroke-width="0.08" textLength="19.10" lengthAdjust="spacingAndGlyphs">1.33270</text>
<text x="724.50" y="236.70" font-family="Liberation Sans, sans-serif" font-size="6.6" fill="#000" stroke="#000" stroke-width="0.08" textLength="19.10" lengthAdjust="spacingAndGlyphs">1.33150</text>
<rect x="722.7" y="168.1" width="23" height="6.2" fill="#e00000"/>
<text x="724.3" y="173.6" font-family="Liberation Sans, sans-serif" font-size="6.4" fill="#fff" stroke="#fff" stroke-width="0.06" textLength="19.1" lengthAdjust="spacingAndGlyphs">1.33546</text>
<text x="724.50" y="259.80" font-family="Liberation Sans, sans-serif" font-size="6.6" fill="#000" stroke="#000" stroke-width="0.08" textLength="22.30" lengthAdjust="spacingAndGlyphs">0.006917</text>
<text x="724.50" y="288.00" font-family="Liberation Sans, sans-serif" font-size="6.6" fill="#000" stroke="#000" stroke-width="0.08" textLength="22.20" lengthAdjust="spacingAndGlyphs">0.000000</text>
<text x="724.50" y="312.30" font-family="Liberation Sans, sans-serif" font-size="6.6" fill="#000" stroke="#000" stroke-width="0.08" textLength="23.90" lengthAdjust="spacingAndGlyphs">-0.005928</text>
<text x="724.50" y="319.40" font-family="Liberation Sans, sans-serif" font-size="6.6" fill="#000" stroke="#000" stroke-width="0.08" textLength="25.00" lengthAdjust="spacingAndGlyphs">0.0022396</text>
<text x="724.50" y="345.90" font-family="Liberation Sans, sans-serif" font-size="6.6" fill="#000" stroke="#000" stroke-width="0.08" textLength="25.00" lengthAdjust="spacingAndGlyphs">0.0000000</text>
<text x="724.50" y="372.30" font-family="Liberation Sans, sans-serif" font-size="6.6" fill="#000" stroke="#000" stroke-width="0.08" textLength="26.80" lengthAdjust="spacingAndGlyphs">-0.0022587</text>
<text x="724.50" y="379.70" font-family="Liberation Sans, sans-serif" font-size="6.6" fill="#000" stroke="#000" stroke-width="0.08" textLength="22.20" lengthAdjust="spacingAndGlyphs">0.003465</text>
<text x="724.50" y="406.90" font-family="Liberation Sans, sans-serif" font-size="6.6" fill="#000" stroke="#000" stroke-width="0.08" textLength="22.20" lengthAdjust="spacingAndGlyphs">0.000000</text>
<path d="M720.80 4.00h2 M720.80 23.20h2 M720.80 42.40h2 M720.80 61.60h2 M720.80 80.80h2 M720.80 100.00h2 M720.80 119.20h2 M720.80 138.40h2 M720.80 157.60h2 M720.80 176.80h2 M720.80 196.00h2 M720.80 215.20h2 M720.80 234.40h2 M720.80 257.50h2 M720.80 285.70h2 M720.80 310.00h2 M720.80 317.10h2 M720.80 343.60h2 M720.80 370.00h2 M720.80 377.40h2 M720.80 404.60h2" stroke="#444" stroke-width="0.8"/>
<text x="3.7" y="262.3" font-family="Liberation Sans, sans-serif" font-size="6.2" fill="#000" stroke="#000" stroke-width="0.08" textLength="41.9" lengthAdjust="spacingAndGlyphs">AOcust 0.000105</text>
<text x="3.7" y="322.4" font-family="Liberation Sans, sans-serif" font-size="6.2" fill="#000" stroke="#000" stroke-width="0.08" textLength="44.6" lengthAdjust="spacingAndGlyphs">ACcust 0.0005092</text>
<text x="3.7" y="382.1" font-family="Liberation Sans, sans-serif" font-size="6.2" fill="#000" stroke="#000" stroke-width="0.08" textLength="74.4" lengthAdjust="spacingAndGlyphs">GatorCust 0.000339 -0.000225</text>
</svg>
</body></html>
